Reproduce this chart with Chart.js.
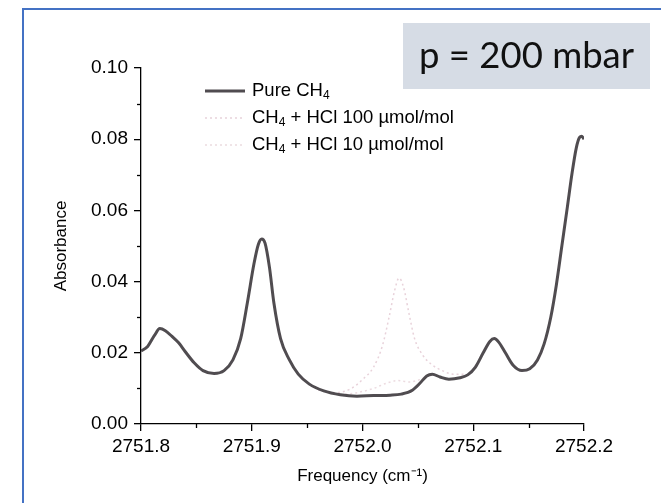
<!DOCTYPE html>
<html><head><meta charset="utf-8">
<script src="https://cdn.jsdelivr.net/npm/chart.js@4"></script>
<style>html,body{margin:0;padding:0;background:#fff;overflow:hidden}#wrap{width:661px;height:503px;position:relative}</style>
</head><body><div id="wrap"><canvas id="c" width="661" height="503"></canvas></div>
<script>
// ---- data ----
const seriesLabels = ['Pure CH4', 'CH4 + HCl 100 µmol/mol', 'CH4 + HCl 10 µmol/mol'];
const pureFreq = [2751.800,2751.806,2751.812,2751.817,2751.822,2751.828,2751.834,2751.840,2751.848,2751.856,2751.866,2751.875,2751.883,2751.890,2751.896,2751.902,2751.906,2751.909,2751.912,2751.916,2751.920,2751.926,2751.934,2751.942,2751.952,2751.965,2751.980,2751.995,2752.010,2752.025,2752.035,2752.045,2752.052,2752.058,2752.063,2752.070,2752.078,2752.088,2752.095,2752.102,2752.109,2752.115,2752.119,2752.123,2752.129,2752.136,2752.144,2752.151,2752.158,2752.164,2752.170,2752.175,2752.180,2752.185,2752.189,2752.193,2752.196,2752.198,2752.200];
const pureAbs  = [0.0205,0.0218,0.0248,0.0268,0.0262,0.0246,0.0228,0.0203,0.0172,0.0150,0.0142,0.0150,0.0180,0.0240,0.0340,0.0450,0.0505,0.0520,0.0508,0.0440,0.0340,0.0240,0.0180,0.0140,0.0112,0.0093,0.0082,0.0078,0.0080,0.0081,0.0084,0.0095,0.0115,0.0135,0.0140,0.0132,0.0126,0.0130,0.0138,0.0160,0.0200,0.0232,0.0240,0.0230,0.0200,0.0165,0.0150,0.0155,0.0180,0.0225,0.0300,0.0390,0.0500,0.0610,0.0700,0.0775,0.0805,0.0808,0.0800];
const hcl100Freq = [2751.960,2751.975,2751.990,2752.000,2752.010,2752.018,2752.024,2752.029,2752.033,2752.037,2752.042,2752.047,2752.054,2752.062,2752.072,2752.082,2752.090,2752.095];
const hcl100Abs  = [0.0096,0.0088,0.0100,0.0125,0.0160,0.0220,0.0300,0.0375,0.0410,0.0385,0.0310,0.0240,0.0195,0.0168,0.0150,0.0140,0.0140,0.0138];
const hcl10Freq = [2751.980,2751.995,2752.010,2752.022,2752.032,2752.042,2752.052,2752.060];
const hcl10Abs  = [0.0082,0.0088,0.0100,0.0115,0.0122,0.0118,0.0125,0.0136];
const xTicks = [2751.8, 2751.9, 2752.0, 2752.1, 2752.2];
const yTicks = [0.00, 0.02, 0.04, 0.06, 0.08, 0.10];
const xMinor = [2751.85, 2751.95, 2752.05, 2752.15];
const yMinor = [0.01, 0.03, 0.05, 0.07, 0.09];
const pressureLabel = 'p = 200 mbar';
const xTitle = 'Frequency (cm⁻¹)';
const yTitle = 'Absorbance';

const toPts = (xs, ys) => xs.map((x, i) => ({x, y: ys[i]}));
const FONT = "'Liberation Sans', Arial, sans-serif";
Chart.defaults.font.family = FONT;

const decor = {
  id: 'decor',
  beforeDraw(chart) {
    const ctx = chart.ctx;
    ctx.save();
    ctx.fillStyle = '#fff';
    ctx.fillRect(0, 0, chart.width, chart.height);
    ctx.strokeStyle = '#4472C4';
    ctx.lineWidth = 2;
    ctx.strokeRect(23, 9, 800, 700);
    ctx.fillStyle = '#D6DCE5';
    ctx.fillRect(403, 23, 247, 66);
    ctx.fillStyle = '#111';
    ctx.font = "36.5px Lato, 'Open Sans', sans-serif";
    ctx.textAlign = 'center';
    ctx.textBaseline = 'middle';
    ctx.fillText(pressureLabel, 526.5, 56);
    ctx.restore();
  },
  afterDraw(chart) {
    const ctx = chart.ctx;
    const xs = chart.scales.x, ys = chart.scales.y;
    ctx.save();
    ctx.strokeStyle = '#000';
    ctx.lineWidth = 1.3;
    const x0 = chart.chartArea.left, y0 = chart.chartArea.bottom;
    yMinor.forEach(v => {
      const p = Math.round(ys.getPixelForValue(v)) + 0.5;
      ctx.beginPath(); ctx.moveTo(x0 - 4, p); ctx.lineTo(x0, p); ctx.stroke();
    });
    xMinor.forEach(v => {
      const p = Math.round(xs.getPixelForValue(v)) + 0.5;
      ctx.beginPath(); ctx.moveTo(p, y0); ctx.lineTo(p, y0 + 4); ctx.stroke();
    });
    // legend
    const lx = 205, tx = 252, rows = [91, 118, 145];
    chart.data.datasets.forEach((ds, i) => {
      const y = rows[i];
      ctx.strokeStyle = ds.borderColor;
      ctx.lineWidth = ds.borderWidth;
      ctx.setLineDash(ds.borderDash || []);
      ctx.beginPath(); ctx.moveTo(lx, y); ctx.lineTo(lx + 40, y); ctx.stroke();
      ctx.setLineDash([]);
      ctx.fillStyle = '#000';
      ctx.textBaseline = 'middle';
      ctx.textAlign = 'left';
      let x = tx;
      const parts = ds.label.split(/(CH4)/);
      parts.forEach(part => {
        if (!part) return;
        if (part === 'CH4') {
          ctx.font = '18.5px ' + FONT;
          ctx.fillText('CH', x, y); x += ctx.measureText('CH').width;
          ctx.font = '12px ' + FONT;
          ctx.fillText('4', x, y + 5); x += ctx.measureText('4').width;
        } else {
          ctx.font = '18.5px ' + FONT;
          ctx.fillText(part, x, y); x += ctx.measureText(part).width;
        }
      });
    });
    ctx.restore();
  }
};

new Chart(document.getElementById('c'), {
  type: 'scatter',
  data: {
    datasets: [
      { label: seriesLabels[0], data: toPts(pureFreq, pureAbs), showLine: true, borderColor: '#504c50', borderWidth: 3, pointRadius: 0, cubicInterpolationMode: 'monotone' },
      { label: seriesLabels[1], data: toPts(hcl100Freq, hcl100Abs), showLine: true, borderColor: '#e8d2da', borderWidth: 1.5, borderDash: [2, 3], pointRadius: 0, cubicInterpolationMode: 'monotone' },
      { label: seriesLabels[2], data: toPts(hcl10Freq, hcl10Abs), showLine: true, borderColor: '#ecdbe0', borderWidth: 1.5, borderDash: [2, 3], pointRadius: 0, cubicInterpolationMode: 'monotone' }
    ]
  },
  options: {
    responsive: false,
    animation: false,
    devicePixelRatio: 1,
    layout: { padding: { left: 51, right: 77, top: 68, bottom: 16 } },
    plugins: { legend: { display: false }, tooltip: { enabled: false } },
    scales: {
      x: {
        type: 'linear', min: 2751.8, max: 2752.2,
        afterBuildTicks: s => { s.ticks = xTicks.map(v => ({ value: v })); },
        afterFit: s => { s.height = 63; },
        grid: { drawOnChartArea: false, drawTicks: true, tickLength: 7, color: '#000', lineWidth: 1.3 },
        border: { display: true, color: '#000', width: 1.3 },
        ticks: { color: '#000', font: { size: 19 }, padding: 4, maxRotation: 0, autoSkip: false, callback: v => Number(v).toFixed(1) },
        title: { display: true, text: xTitle, color: '#000', font: { size: 17 }, padding: 0 }
      },
      y: {
        min: 0, max: 0.1,
        afterBuildTicks: s => { s.ticks = yTicks.map(v => ({ value: v })); },
        afterFit: s => { s.width = 90; },
        grid: { drawOnChartArea: false, drawTicks: true, tickLength: 7, color: '#000', lineWidth: 1.3 },
        border: { display: true, color: '#000', width: 1.3 },
        ticks: { color: '#000', font: { size: 19 }, padding: 6, autoSkip: false, callback: v => Number(v).toFixed(2) },
        title: { display: true, text: yTitle, color: '#000', font: { size: 17 }, padding: 0 }
      }
    }
  },
  plugins: [decor]
});
</script></body></html>
